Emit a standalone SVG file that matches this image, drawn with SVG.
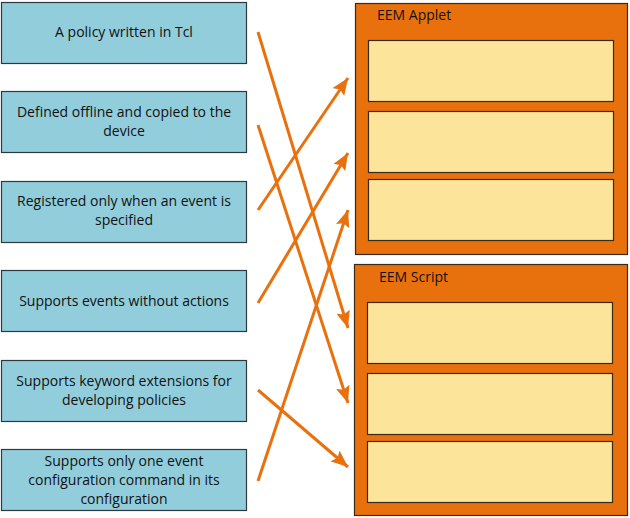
<svg xmlns="http://www.w3.org/2000/svg" width="630" height="518" viewBox="0 0 630 518">
  <style>
    .item { fill: #92CDDC; stroke: #2b3a40; stroke-width: 1.2; }
    .itxt { font-family: "Open Sans", "Liberation Sans", sans-serif; font-size: 14px; fill: #111; text-anchor: middle; }
    .outer { fill: #E8710E; stroke: #3a2a1a; stroke-width: 1.2; }
    .slot { fill: #FDE49B; stroke: #3a2a1a; stroke-width: 1.2; }
    .title { font-family: "Open Sans", "Liberation Sans", sans-serif; font-size: 14px; fill: #111; }
    .conn { stroke: #E8710E; stroke-width: 3; fill: none; marker-end: url(#ah); }
  </style>
  <defs>
    <marker id="ah" markerUnits="userSpaceOnUse" markerWidth="18" markerHeight="14" refX="17" refY="7" orient="auto">
      <path d="M0,0 L17,7 L0,14 L3,7 z" fill="#E8710E"/>
    </marker>
  </defs>
  <rect width="630" height="518" fill="#ffffff"/>

  <g id="item1"><rect class="item" x="1.5" y="2.5" width="245" height="61"/>
    <text class="itxt" x="124" y="37">A policy written in Tcl</text></g>
  <g id="item2"><rect class="item" x="1.5" y="91.5" width="245" height="61"/>
    <text class="itxt" x="124" y="117">Defined offline and copied to the</text>
    <text class="itxt" x="124" y="136">device</text></g>
  <g id="item3"><rect class="item" x="1.5" y="181.5" width="245" height="61"/>
    <text class="itxt" x="124" y="206">Registered only when an event is</text>
    <text class="itxt" x="124" y="225">specified</text></g>
  <g id="item4"><rect class="item" x="1.5" y="270.5" width="245" height="61"/>
    <text class="itxt" x="124" y="306">Supports events without actions</text></g>
  <g id="item5"><rect class="item" x="1.5" y="360.5" width="245" height="61"/>
    <text class="itxt" x="124" y="386">Supports keyword extensions for</text>
    <text class="itxt" x="124" y="405">developing policies</text></g>
  <g id="item6"><rect class="item" x="1.5" y="449.5" width="245" height="61"/>
    <text class="itxt" x="124" y="466">Supports only one event</text>
    <text class="itxt" x="124" y="485">configuration command in its</text>
    <text class="itxt" x="124" y="504">configuration</text></g>

  <g id="applet">
    <rect class="outer" x="355.5" y="3.5" width="272" height="251"/>
    <text class="title" x="377" y="20">EEM Applet</text>
    <rect class="slot" x="368.5" y="40.5" width="245" height="61"/>
    <rect class="slot" x="368.5" y="111.5" width="245" height="61"/>
    <rect class="slot" x="368.5" y="179.5" width="245" height="61"/>
  </g>
  <g id="script">
    <rect class="outer" x="354.5" y="264.5" width="273" height="251"/>
    <text class="title" x="379" y="282">EEM Script</text>
    <rect class="slot" x="367.5" y="302.5" width="245" height="61"/>
    <rect class="slot" x="367.5" y="373.5" width="245" height="61"/>
    <rect class="slot" x="367.5" y="441.5" width="245" height="61"/>
  </g>

  <g id="connectors">
    <line class="conn" x1="258" y1="32" x2="348" y2="328"/>
    <line class="conn" x1="258" y1="125" x2="348" y2="403"/>
    <line class="conn" x1="258" y1="210" x2="348" y2="78"/>
    <line class="conn" x1="258" y1="303" x2="348" y2="153"/>
    <line class="conn" x1="258" y1="390" x2="348" y2="467"/>
    <line class="conn" x1="258" y1="481" x2="348" y2="210"/>
  </g>
</svg>
